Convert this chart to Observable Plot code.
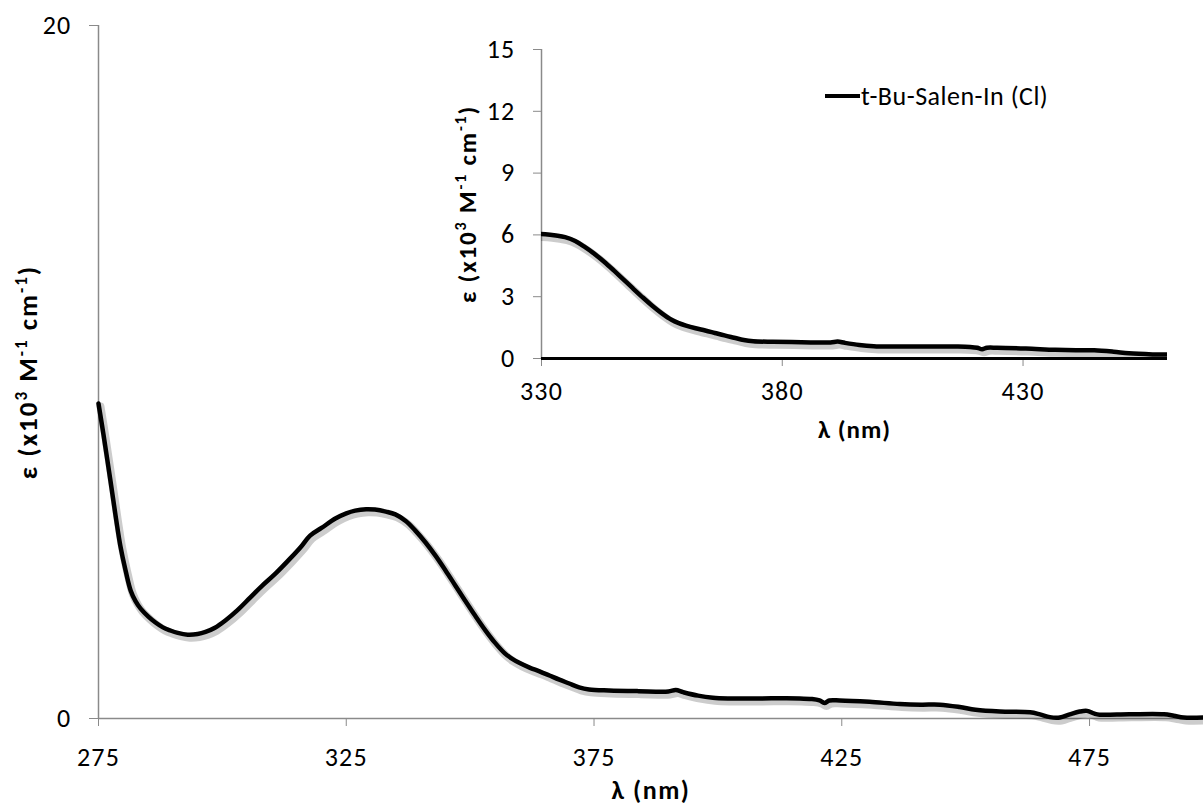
<!DOCTYPE html>
<html><head><meta charset="utf-8">
<script src="https://cdn.jsdelivr.net/npm/d3@7"></script>
<script src="https://cdn.jsdelivr.net/npm/@observablehq/plot@0.6"></script>
<style>
body{margin:0;background:#fff;}
#wrap{position:relative;width:1203px;height:807px;overflow:hidden;font-family:Calibri,Carlito,Lato,sans-serif;}
#main{position:absolute;left:0;top:0;}
#inset{position:absolute;left:430px;top:20px;}
#legend{position:absolute;left:825px;top:80px;font-size:26px;letter-spacing:0.5px;line-height:32px;display:flex;align-items:center;color:#000;}
#legend .sw{display:inline-block;width:35px;height:4px;background:#000;margin-right:1px;}
g[aria-label$="tick label"] text{letter-spacing:1.2px;}
</style></head><body>
<div id="wrap"><div id="main"></div><div id="inset"></div><div id="legend"><span class="sw"></span><span id="legtext"></span></div></div>
<script>
const seriesName = "t-Bu-Salen-In (Cl)";
const xLabel = "λ (nm)";
const yLabel = "ε (x10³ M⁻¹ cm⁻¹)";
const yLabelParts = [["ε (x10", false], ["3", true], [" M", false], ["-1", true], [" cm", false], ["-1", true], [")", false]];
const wavelength = [275,276,277.4,278.5,279.4,280.5,281.5,282.5,283.5,285,286.5,288,289.5,291,293,295,296.6,298.5,300.6,303,305.6,308,310.7,313.7,316,317.7,320,322.8,325,326.8,329,330.8,333,334.9,337,338.9,341,343,345,347,349,351,353,355,357,358.5,360,362,364,366,368,370,372,374,378,384,390,391.5,393,396,399,402,408,416.5,419,420.5,421.5,422.5,424.6,430.6,436.7,441,444.8,448.8,452,456.9,463,465,467,469,471,473,474.5,476,477,483,490,492,494,498];
const epsilon = [9.09,8.2,6.87,5.8,4.99,4.25,3.69,3.38,3.17,2.95,2.77,2.63,2.54,2.47,2.42,2.44,2.5,2.62,2.83,3.12,3.49,3.83,4.18,4.62,4.98,5.28,5.5,5.77,5.92,6.0,6.04,6.03,5.97,5.89,5.7,5.43,5.08,4.7,4.28,3.84,3.4,2.97,2.56,2.19,1.88,1.72,1.6,1.47,1.36,1.24,1.12,1.01,0.9,0.84,0.81,0.79,0.78,0.82,0.76,0.66,0.6,0.58,0.58,0.58,0.56,0.52,0.45,0.52,0.52,0.48,0.42,0.4,0.4,0.33,0.25,0.2,0.18,0.12,0.04,0.03,0.12,0.2,0.22,0.14,0.11,0.12,0.12,0.08,0.03,0.03];
const mainXDomain = [275, 498];
const mainYDomain = [0, 20];
const mainXTicks = [275, 325, 375, 425, 475];
const mainYTicks = [0, 20];
const insetXDomain = [330, 460];
const insetYDomain = [0, 15];
const insetXTicks = [330, 380, 430];
const insetYTicks = [0, 3, 6, 9, 12, 15];

const data = wavelength.map((w, i) => ({w, e: epsilon[i]}));
const font = "Calibri, Carlito, Lato, sans-serif";
const gray = "#8a8a8a";

document.getElementById("legtext").textContent = seriesName;

function superscriptLabel(svg, size, spacing) {
  const supSize = Math.round(size * 0.62);
  const shift = Math.round(size * 0.38);
  d3.select(svg).selectAll("text").filter(function () { return this.textContent === yLabel; }).each(function () {
    const t = d3.select(this);
    t.text(null).style("letter-spacing", spacing + "px");
    let prevSup = false;
    for (const [s, sup] of yLabelParts) {
      const ts = t.append("tspan").text(s);
      if (sup) ts.attr("font-size", supSize).attr("dy", -shift);
      else if (prevSup) ts.attr("dy", shift);
      prevSup = sup;
    }
  });
}
function spaceLabel(svg, spacing) {
  d3.select(svg).selectAll("text").filter(function () { return this.textContent === xLabel; })
    .style("letter-spacing", spacing + "px");
}

const main = Plot.plot({
  width: 1203, height: 807,
  marginLeft: 98, marginRight: 0, marginTop: 25, marginBottom: 89,
  style: {fontFamily: font, fontSize: "26px", color: "#000", background: "transparent"},
  x: {domain: mainXDomain},
  y: {domain: mainYDomain},
  marks: [
    Plot.ruleX([mainXDomain[0]], {stroke: gray, strokeWidth: 1.5}),
    Plot.ruleY([0], {stroke: gray, strokeWidth: 1.5}),
    Plot.axisX({ticks: mainXTicks, tickSize: 8, tickPadding: 21, stroke: gray, fill: "#000", label: null, fontSize: 26}),
    Plot.axisY({ticks: mainYTicks, tickSize: 9, tickPadding: 18, stroke: gray, fill: "#000", label: null, fontSize: 26}),
    Plot.line(data, {x: "w", y: "e", stroke: "#000", strokeOpacity: 0.2, strokeWidth: 8, dx: 2, dy: 3, curve: "catmull-rom"}),
    Plot.line(data, {x: "w", y: "e", stroke: "#000", strokeWidth: 4.5, curve: "catmull-rom"}),
    Plot.text([xLabel], {frameAnchor: "bottom", dy: 80, lineAnchor: "bottom", fontWeight: "bold", fontSize: 26, fontFamily: font}),
    Plot.text([yLabel], {frameAnchor: "left", dx: -70, rotate: -90, lineAnchor: "middle", textAnchor: "middle", fontWeight: "bold", fontSize: 27, fontFamily: font})
  ]
});
superscriptLabel(main, 27, 2);
spaceLabel(main, 1.5);
document.getElementById("main").append(main);

const inset = Plot.plot({
  width: 747, height: 440,
  marginLeft: 111, marginRight: 10, marginTop: 29, marginBottom: 102,
  style: {fontFamily: font, fontSize: "26px", color: "#000", background: "transparent"},
  x: {domain: insetXDomain},
  y: {domain: insetYDomain},
  marks: [
    Plot.ruleX([insetXDomain[0]], {stroke: gray, strokeWidth: 1.5}),
    Plot.axisX({ticks: insetXTicks, tickSize: 8, tickPadding: 15, stroke: gray, fill: "#000", label: null, fontSize: 26}),
    Plot.axisY({ticks: insetYTicks, tickSize: 8, tickPadding: 18, stroke: gray, fill: "#000", label: null, fontSize: 26}),
    Plot.line(data, {x: "w", y: "e", stroke: "#000", strokeOpacity: 0.2, strokeWidth: 8, dx: 2, dy: 3, curve: "catmull-rom", clip: true}),
    Plot.line(data, {x: "w", y: "e", stroke: "#000", strokeWidth: 4.5, curve: "catmull-rom", clip: true}),
    Plot.ruleY([0], {stroke: "#000", strokeWidth: 3}),
    Plot.text([xLabel], {frameAnchor: "bottom", dy: 79, lineAnchor: "bottom", fontWeight: "bold", fontSize: 25, fontFamily: font}),
    Plot.text([yLabel], {frameAnchor: "left", dx: -74, rotate: -90, lineAnchor: "middle", textAnchor: "middle", fontWeight: "bold", fontSize: 25, fontFamily: font})
  ]
});
superscriptLabel(inset, 25, 1.8);
spaceLabel(inset, 1);
document.getElementById("inset").append(inset);
</script>
</body></html>
